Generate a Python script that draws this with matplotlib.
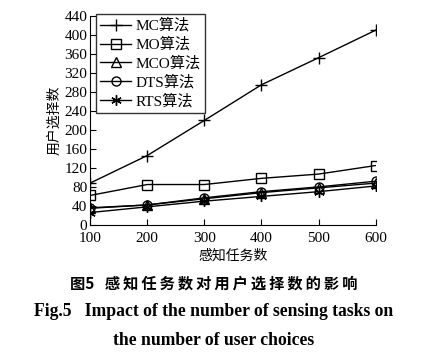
import matplotlib
matplotlib.use("Agg")
import matplotlib.pyplot as plt

# data
tasks = [100, 200, 300, 400, 500, 600]
mc = [88, 146, 220, 295, 352, 410]
mo = [62, 85, 85, 98, 107, 125]
mco = [35, 42, 55, 68, 78, 88]
dts = [36, 42, 57, 70, 80, 92]
rts = [26, 38, 50, 60, 70, 82]
labels = ["MC算法", "MO算法", "MCO算法", "DTS算法", "RTS算法"]
yticks = list(range(0, 441, 40))

fam = ["Liberation Serif", "Noto Sans CJK SC"]
plt.rcParams["font.family"] = fam
plt.rcParams["axes.unicode_minus"] = False

fig = plt.figure(figsize=(4.27, 3.61), dpi=100)
ax = fig.add_axes([0.211, 0.377, 0.669, 0.579])

series = [mc, mo, mco, dts, rts]
markers = ["+", "s", "^", "o", (6, 2, 0)]
sizes = [9, 6.5, 6.5, 6.5, 7.5]
for s, m, ms, lab in zip(series, markers, sizes, labels):
    ax.plot(tasks, s, color="black", lw=1.0, marker=m, ms=ms,
            mfc="none", mec="black", mew=1.0, label=lab)

ax.set_xlim(100, 600)
ax.set_ylim(0, 440)
ax.set_xticks(tasks)
ax.set_yticks(yticks)
ax.spines["top"].set_visible(False)
ax.spines["right"].set_visible(False)
ax.tick_params(direction="in", length=4, labelsize=11)
ax.tick_params(axis="x", pad=5)
ax.tick_params(axis="y", pad=2)
ax.set_xlabel("感知任务数", fontsize=10, labelpad=3)
ax.set_ylabel("用户选择数", fontsize=10, labelpad=2)

leg = ax.legend(loc="upper left", bbox_to_anchor=(0.02, 1.01), fontsize=11,
                frameon=True, fancybox=False, edgecolor="black",
                handlelength=2.0, handletextpad=0.3, labelspacing=0.28,
                borderpad=0.3, borderaxespad=0)
leg.get_frame().set_linewidth(1.0)

ts = "\u2009"
cn = "图5" + "   " + ts.join("感知任务数对用户选择数的影响")
fig.text(0.5, 0.215, cn, ha="center", va="center",
         fontsize=11, fontweight="bold", family=["Noto Sans CJK SC", "DejaVu Sans"])
fig.text(0.5, 0.138, "Fig.5   Impact of the number of sensing tasks on", ha="center",
         va="center", fontsize=12.7, fontweight="bold", family="Liberation Serif")
fig.text(0.5, 0.056, "the number of user choices", ha="center", va="center",
         fontsize=12.7, fontweight="bold", family="Liberation Serif")

fig.savefig("out.png", dpi=100)
